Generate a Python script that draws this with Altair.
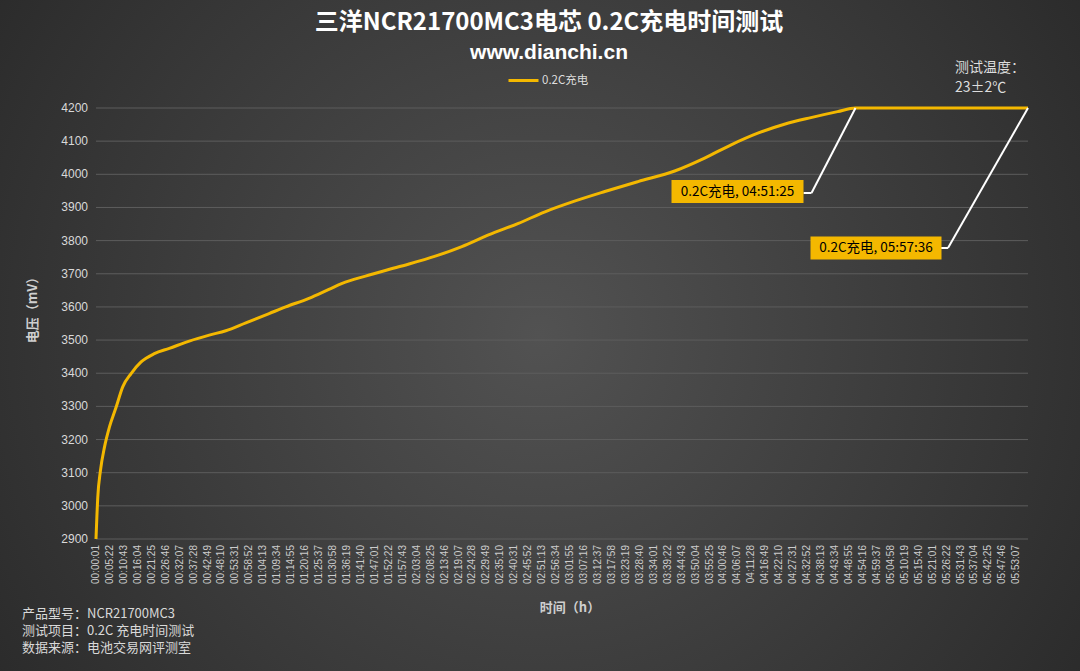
import altair as alt
import pandas as pd

# ---------------- data ----------------
title_text = "三洋NCR21700MC3电芯 0.2C充电时间测试"
subtitle_text = "www.dianchi.cn"
series_name = "0.2C充电"
x_title = "时间（h）"
y_title = "电压（mV）"

# elapsed time in seconds and cell voltage in mV
time_s = [1, 42, 104, 196, 311, 465, 616, 809, 1039, 1344,
          1689, 2148, 2608, 2990, 3450, 3986, 4368, 4904, 5363, 5668,
          6205, 6970, 7812, 8423, 9036, 9725, 10338, 10949, 11715, 12480,
          13323, 14012, 14623, 15236, 15848, 16459, 17072, 17485, 21456]
voltage_mv = [2900, 3026, 3107, 3177, 3238, 3298, 3359, 3399, 3434, 3459,
              3475, 3497, 3515, 3528, 3552, 3580, 3600, 3626, 3653, 3671,
              3693, 3721, 3753, 3782, 3817, 3852, 3887, 3916, 3948, 3978,
              4010, 4049, 4089, 4124, 4151, 4171, 4189, 4200, 4200]

x_tick_values = [1 + 321 * k for k in range(67)]   # 00:00:01, 00:05:22, ... 05:53:07
y_tick_values = list(range(2900, 4201, 100))

ann_times = [17485, 21456]
ann_volts = [4200, 4200]
ann_labels = ["0.2C充电, 04:51:25", "0.2C充电, 05:57:36"]

footer_lines = ["产品型号：NCR21700MC3", "测试项目：0.2C 充电时间测试", "数据来源：电池交易网评测室"]
temp_lines = ["测试温度：", "23±2℃"]

# ---------------- style ----------------
GOLD = "#f4b800"
CJK = "Noto Sans CJK SC"
LAT = "Liberation Sans"
W, H = 932, 431
PL, PT = 96, 108
TOTAL_W, TOTAL_H = 1080, 671

df = pd.DataFrame({"t": time_s, "v": voltage_mv, "series": series_name})

xscale = alt.Scale(domain=[1, 21456], nice=False, zero=False)
yscale = alt.Scale(domain=[2900, 4200], nice=False, zero=False)

one = alt.Data(values=[{}])

bg = alt.Chart(one).mark_rect(
    fill={"gradient": "radial", "x1": 0.5, "y1": 0.5, "r1": 0,
          "x2": 0.5, "y2": 0.5, "r2": 0.72,
          "stops": [{"offset": 0, "color": "#525252"},
                    {"offset": 1, "color": "#232323"}]}
).encode(x=alt.value(-PL), x2=alt.value(TOTAL_W - PL),
         y=alt.value(-PT), y2=alt.value(TOTAL_H - PT))

ydf = pd.DataFrame({"v": y_tick_values})
grid = alt.Chart(ydf).mark_rule(color="#5d5d5d", strokeWidth=1).encode(
    y=alt.Y("v:Q", scale=yscale, axis=None), x=alt.value(0), x2=alt.value(W))

ylabels = alt.Chart(ydf).mark_text(
    align="right", baseline="middle", fontSize=12, font=LAT, color="#d9d9d9"
).encode(y=alt.Y("v:Q", scale=yscale, axis=None), x=alt.value(-8), text=alt.Text("v:Q", format="d"))

xlabels = alt.Chart(pd.DataFrame({"t": x_tick_values})).transform_calculate(
    lab="utcFormat(datum.t*1000, '%H:%M:%S')"
).mark_text(
    align="right", baseline="middle", angle=270, fontSize=10, font=LAT, color="#cccccc"
).encode(x=alt.X("t:Q", scale=xscale, axis=None), y=alt.value(H + 6), text="lab:N")

xtitle = alt.Chart(one).mark_text(
    align="center", baseline="middle", fontSize=13, font=CJK, fontWeight="bold", color="#cfcfcf"
).encode(x=alt.value(474), y=alt.value(608 - PT), text=alt.value(x_title))

ytitle = alt.Chart(one).mark_text(
    align="center", baseline="middle", angle=270, fontSize=13, font=CJK, fontWeight="bold",
    color="#cfcfcf"
).encode(x=alt.value(33 - PL), y=alt.value(307 - PT), text=alt.value(y_title))

title = alt.Chart(one).mark_text(
    align="center", baseline="middle", fontSize=24, font=CJK, fontWeight="bold", color="#ffffff"
).encode(x=alt.value(549 - PL), y=alt.value(23 - PT), text=alt.value(title_text))

subtitle = alt.Chart(one).mark_text(
    align="center", baseline="middle", fontSize=21, font=LAT, fontWeight="bold", color="#ffffff"
).encode(x=alt.value(549 - PL), y=alt.value(53 - PT), text=alt.value(subtitle_text))

line = alt.Chart(df).mark_line(strokeWidth=3, interpolate="monotone").encode(
    x=alt.X("t:Q", scale=xscale, axis=None),
    y=alt.Y("v:Q", scale=yscale, axis=None),
    color=alt.Color("series:N", scale=alt.Scale(range=[GOLD]), legend=alt.Legend(
        title=None, orient="none", legendX=411, legendY=-44,
        symbolType="stroke", symbolSize=900, symbolStrokeWidth=3,
        labelColor="#dddddd", labelFontSize=11.5, labelFont=CJK, labelOffset=2)),
)

# annotation layout (pixel offsets from the anchor point)
ann_layout = [
    {"elbow": (-44, 85), "edge": (-52, 85), "box": (-118, 83.5), "size": (132, 23)},
    {"elbow": (-80, 140), "edge": (-87, 140), "box": (-152, 140), "size": (131, 23)},
]

ann_layers = []
for t, v, lab, lay in zip(ann_times, ann_volts, ann_labels, ann_layout):
    adf = pd.DataFrame({"t": [t], "v": [v], "label": [lab]})
    base = alt.Chart(adf).encode(
        x=alt.X("t:Q", scale=xscale, axis=None),
        y=alt.Y("v:Q", scale=yscale, axis=None))
    ex, ey = lay["elbow"]
    rx, ry = lay["edge"]
    bx, by = lay["box"]
    bw, bh = lay["size"]
    diag = base.mark_rule(color="white", strokeWidth=2, x2Offset=ex, y2Offset=ey).encode(
        x2="t:Q", y2="v:Q")
    horiz = base.mark_rule(color="white", strokeWidth=2, xOffset=ex, yOffset=ey,
                           x2Offset=rx, y2Offset=ry).encode(x2="t:Q", y2="v:Q")
    box = base.mark_rect(fill=GOLD, width=bw, height=bh, xOffset=bx, yOffset=by)
    txt = base.mark_text(color="black", fontSize=13.5, font=CJK, dx=bx, dy=by,
                         align="center", baseline="middle").encode(text="label:N")
    ann_layers += [diag, horiz, box, txt]

footer_layers = []
for i, ln in enumerate(footer_lines):
    footer_layers.append(alt.Chart(one).mark_text(
        align="left", baseline="middle", fontSize=13, font=CJK, color="#d9d9d9"
    ).encode(x=alt.value(22 - PL), y=alt.value(614 + 17 * i - PT), text=alt.value(ln)))

temp_layers = []
for i, ln in enumerate(temp_lines):
    temp_layers.append(alt.Chart(one).mark_text(
        align="left", baseline="middle", fontSize=14, font=CJK, color="#dddddd"
    ).encode(x=alt.value(955 - PL), y=alt.value(68 + 20 * i - PT), text=alt.value(ln)))

chart = alt.layer(bg, grid, line, *ann_layers, ylabels, xlabels, xtitle, ytitle,
                  title, subtitle, *footer_layers, *temp_layers).properties(
    width=W, height=H,
    autosize=alt.AutoSizeParams(type="none"),
    padding={"left": PL, "top": PT, "right": TOTAL_W - PL - W, "bottom": TOTAL_H - PT - H},
    background="#2b2b2b",
).configure_view(stroke=None)

chart.save("out.html", embed_options={"renderer": "svg", "actions": False})
